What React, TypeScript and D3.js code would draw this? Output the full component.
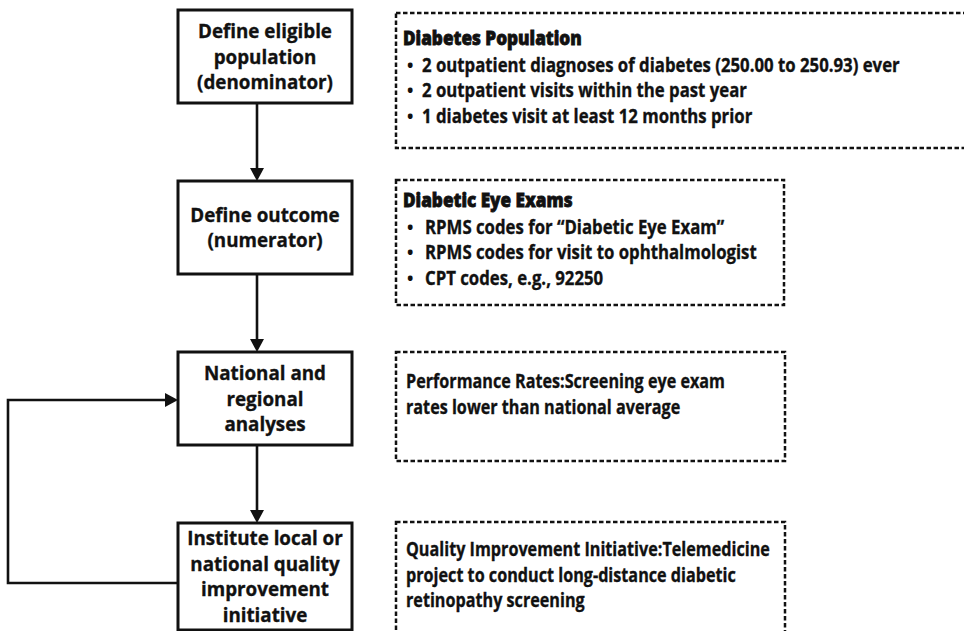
import React from 'react';
import * as d3 from 'd3';

// flow steps, left column
const stepLabels = [
	['Define eligible', 'population', '(denominator)'],
	['Define outcome', '(numerator)'],
	['National and', 'regional', 'analyses'],
	['Institute local or', 'national quality', 'improvement', 'initiative'],
];

// detail boxes, right column
const detailTitles = ['Diabetes Population', 'Diabetic Eye Exams', '', ''];
const detailBullets = [
	[
		'2 outpatient diagnoses of diabetes (250.00 to 250.93) ever',
		'2 outpatient visits within the past year',
		'1 diabetes visit at least 12 months prior',
	],
	[
		'RPMS codes for \u201CDiabetic Eye Exam\u201D',
		'RPMS codes for visit to ophthalmologist',
		'CPT codes, e.g., 92250',
	],
	[],
	[],
];
const detailNotes = [
	[],
	[],
	['Performance Rates:Screening eye exam', 'rates lower than national average'],
	['Quality Improvement Initiative:Telemedicine', 'project to conduct long-distance diabetic', 'retinopathy screening'],
];

const W = 964;
const H = 631;
const FONT = "'Open Sans', 'Noto Sans', sans-serif";

// squeezed text, the original face is a condensed one
const Label = ({ x, y, text, anchor = 'start', weight = 700, size = 19.5, sx = 0.86, bold = 0.35 }) => (
	<text
		transform={`translate(${x},${y}) scale(${sx},1)`}
		textAnchor={anchor}
		fontFamily={FONT}
		fontWeight={weight}
		fontSize={size}
		fill='#111'
		stroke='#111'
		strokeWidth={bold}
	>
		{text}
	</text>
);

const Arrow = ({ points }) => {
	const line = d3.line();
	const [x1, y1] = points[points.length - 2];
	const [x2, y2] = points[points.length - 1];
	const ang = Math.atan2(y2 - y1, x2 - x1);
	const len = 13, half = 7;
	const base = [x2 - len * Math.cos(ang), y2 - len * Math.sin(ang)];
	const head = [
		[x2, y2],
		[base[0] + half * Math.sin(ang), base[1] - half * Math.cos(ang)],
		[base[0] - half * Math.sin(ang), base[1] + half * Math.cos(ang)],
	];
	const shaft = points.slice(0, -1).concat([base]);
	return (
		<g>
			<path d={line(shaft)} fill='none' stroke='#111' strokeWidth={2.6} />
			<path d={line(head) + 'Z'} fill='#111' />
		</g>
	);
};

const App = () => {
	const rows = d3.range(stepLabels.length);
	const y = d3.scaleLinear().domain([0, rows.length - 1]).range([10, 523]);
	const boxX = d3.scaleLinear().domain([0, 1]).range([178, 352]);
	const lineH = 25.5;
	const boxH = i => (stepLabels[i].length > 3 ? 107 : 93);
	const arrowX = 257;

	const detailTop = [13, 180, 352, 522];
	const detailH = [135, 125, 109, 120];
	const detailX0 = 396;
	const detailX1 = [W + 10, 784, 785, 785];

	return (
		<svg width={W} height={H} style={{ position: 'absolute', left: 0, top: 0, background: '#fff' }}>
			{/* left boxes */}
			{rows.map(i => {
				const top = y(i);
				const h = boxH(i);
				const n = stepLabels[i].length;
				const cx = (boxX(0) + boxX(1)) / 2;
				const firstBase = top + h / 2 - ((n - 1) * lineH) / 2 + 7;
				return (
					<g key={'step' + i}>
						<rect x={boxX(0)} y={top} width={boxX(1) - boxX(0)} height={h} fill='#fff' stroke='#111' strokeWidth={3} />
						{stepLabels[i].map((t, j) => (
							<Label key={j} x={cx} y={firstBase + j * lineH} text={t} anchor='middle' size={20} sx={0.94} />
						))}
					</g>
				);
			})}

			{/* down arrows */}
			{rows.slice(0, -1).map(i => (
				<Arrow key={'down' + i} points={[[arrowX, y(i) + boxH(i)], [arrowX, y(i + 1)]]} />
			))}

			{/* feedback loop */}
			<Arrow points={[[boxX(0), 583], [8, 583], [8, 400], [boxX(0), 400]]} />

			{/* detail boxes */}
			{rows.map(i => {
				const top = detailTop[i];
				const hasTitle = detailTitles[i] !== '';
				const firstBase = top + (hasTitle ? 32 : 35) - (i === 1 ? 5 : 0) - (i === 3 ? 2 : 0);
				return (
					<g key={'detail' + i}>
						<rect
							x={detailX0}
							y={top}
							width={detailX1[i] - detailX0}
							height={detailH[i]}
							fill='none'
							stroke='#111'
							strokeWidth={2.5}
							strokeDasharray='4.5 2.5'
						/>
						{hasTitle && <Label x={403} y={firstBase} text={detailTitles[i]} weight={800} sx={0.88} bold={0.8} />}
						{detailBullets[i].map((t, j) => (
							<g key={'b' + j}>
								<text x={407} y={firstBase + (j + 1) * lineH + 1} fontFamily={FONT} fontWeight={700} fontSize={17} fill='#111'>
									{'\u2022'}
								</text>
								<Label x={i === 0 ? 422 : 425} y={firstBase + (j + 1) * lineH + 1} text={t} />
							</g>
						))}
						{detailNotes[i].map((t, j) => (
							<Label key={'n' + j} x={406} y={firstBase + j * lineH + 1} text={t} sx={0.83} />
						))}
					</g>
				);
			})}
		</svg>
	);
};

export default App;
